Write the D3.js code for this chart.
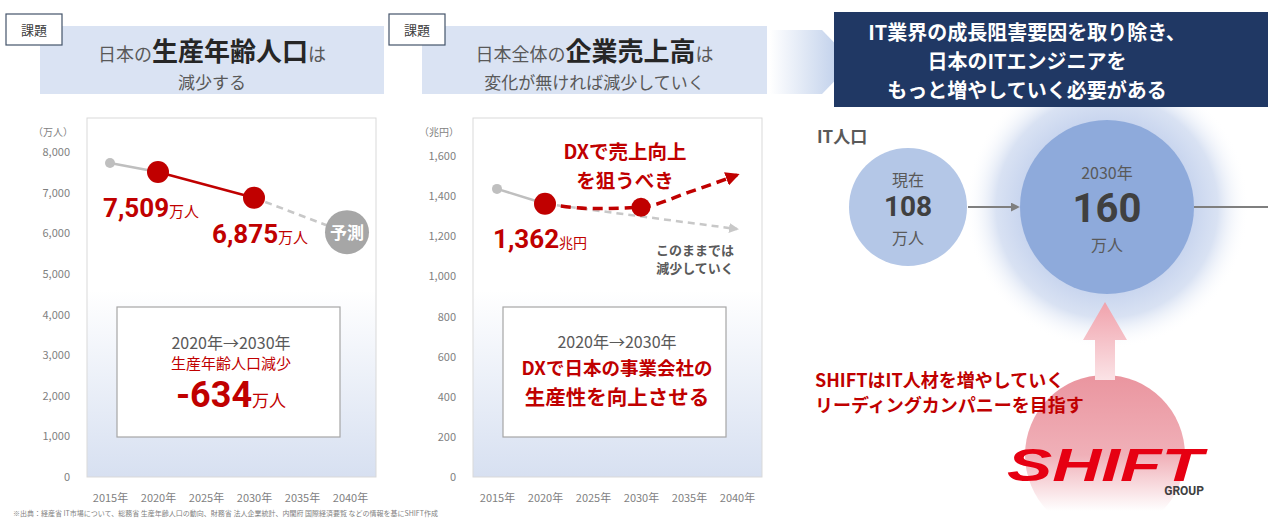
<!DOCTYPE html>
<html>
<head>
<meta charset="utf-8">
<script src="https://cdn.jsdelivr.net/npm/d3@7"></script>
<style>
  body { margin: 0; background: #fff; }
  svg { display: block; font-family: "Noto Sans CJK JP", "Noto Sans", sans-serif; }
</style>
</head>
<body>
<div id="chart"></div>
<script>
// data
const yearTicks = [2015, 2020, 2025, 2030, 2035, 2040]
const popYears = [2015, 2020, 2030, 2040]
const popValues = [7728, 7509, 6875, 5978]
const popTicks = [0, 1000, 2000, 3000, 4000, 5000, 6000, 7000, 8000]
const salesYears = [2015, 2020, 2030]
const salesValues = [1436, 1362, 1345]
const dxYears = [2020, 2025, 2030, 2035, 2040]
const dxValues = [1362, 1338, 1345, 1420, 1505]
const trendYears = [2020, 2040]
const trendValues = [1362, 1236]
const salesTicks = [0, 200, 400, 600, 800, 1000, 1200, 1400, 1600]
const itLabels = ['現在', '2030年']
const itValues = [108, 160]

const red = '#c00000'
const grayText = '#595959'
const numFont = 'Roboto, "Noto Sans", sans-serif'

const svg = d3.select('#chart').append('svg')
  .attr('width', 1268)
  .attr('height', 520)

const defs = svg.append('defs')

const bgGrad = defs.append('linearGradient')
  .attr('id', 'plotBg').attr('x1', 0).attr('y1', 0).attr('x2', 0).attr('y2', 1)
bgGrad.append('stop').attr('offset', '0%').attr('stop-color', '#ffffff')
bgGrad.append('stop').attr('offset', '48%').attr('stop-color', '#ffffff')
bgGrad.append('stop').attr('offset', '100%').attr('stop-color', '#d7e0f1')

const arrowGrad = defs.append('linearGradient')
  .attr('id', 'bigArrow').attr('x1', 0).attr('y1', 0).attr('x2', 1).attr('y2', 0)
arrowGrad.append('stop').attr('offset', '0%').attr('stop-color', '#ffffff')
arrowGrad.append('stop').attr('offset', '100%').attr('stop-color', '#b4c7e7')

const glow = defs.append('radialGradient').attr('id', 'glow')
glow.append('stop').attr('offset', '55%').attr('stop-color', '#c3d1ed')
glow.append('stop').attr('offset', '78%').attr('stop-color', '#d9e2f3')
glow.append('stop').attr('offset', '100%').attr('stop-color', '#ffffff').attr('stop-opacity', 0)

const pinkGrad = defs.append('linearGradient')
  .attr('id', 'pink').attr('x1', 0).attr('y1', 0).attr('x2', 0).attr('y2', 1)
pinkGrad.append('stop').attr('offset', '0%').attr('stop-color', '#ea959f')
pinkGrad.append('stop').attr('offset', '50%').attr('stop-color', '#f0b0b8')
pinkGrad.append('stop').attr('offset', '85%').attr('stop-color', '#ffffff')

const pinkArrowGrad = defs.append('linearGradient')
  .attr('id', 'pinkArrow').attr('x1', 0).attr('y1', 0).attr('x2', 0).attr('y2', 1)
pinkArrowGrad.append('stop').attr('offset', '0%').attr('stop-color', '#f0a2ac')
pinkArrowGrad.append('stop').attr('offset', '100%').attr('stop-color', '#fbe3e6')

const marker = (id, color, size) => {
  defs.append('marker')
    .attr('id', id)
    .attr('viewBox', '0 0 10 10')
    .attr('refX', 8).attr('refY', 5)
    .attr('markerWidth', size).attr('markerHeight', size)
    .attr('markerUnits', 'userSpaceOnUse')
    .attr('orient', 'auto')
    .append('path')
    .attr('d', 'M0,0 L10,5 L0,10 Z')
    .attr('fill', color)
}
marker('redHead', red, 14)
marker('grayHead', '#c8c8c8', 10)
marker('darkHead', '#7f7f7f', 9)

// ---------- title panels ----------
const titlePanel = (x, w, line1, line2) => {
  svg.append('rect')
    .attr('x', x).attr('y', 26).attr('width', w).attr('height', 68)
    .attr('fill', '#dae3f3')
  const t = svg.append('text')
    .attr('x', x + w / 2).attr('y', 61)
    .attr('text-anchor', 'middle')
    .attr('fill', '#404040')
  line1.forEach(p => {
    t.append('tspan')
      .attr('font-size', p.big ? 26 : 18)
      .attr('font-weight', p.big ? 'bold' : 'normal')
      .attr('fill', p.big ? '#262626' : '#595959')
      .text(p.s)
  })
  svg.append('text')
    .attr('x', x + w / 2).attr('y', 89)
    .attr('text-anchor', 'middle')
    .attr('font-size', 17).attr('fill', '#595959')
    .text(line2)
}
const tagBox = (x) => {
  svg.append('rect')
    .attr('x', x).attr('y', 14).attr('width', 56).attr('height', 31)
    .attr('fill', '#fff').attr('stroke', '#44546a').attr('stroke-width', 1.2)
  svg.append('text')
    .attr('x', x + 28).attr('y', 35)
    .attr('text-anchor', 'middle').attr('font-size', 13).attr('fill', '#404040')
    .text('課題')
}

titlePanel(40, 344, [{ s: '日本の' }, { s: '生産年齢人口', big: true }, { s: 'は' }], '減少する')
tagBox(6)
titlePanel(422, 345, [{ s: '日本全体の' }, { s: '企業売上高', big: true }, { s: 'は' }], '変化が無ければ減少していく')
tagBox(389)

// ---------- chart helper ----------
const plotTop = 118
const plotBottom = 477

const drawFrame = (left, right, y, ticks, unit, x) => {
  svg.append('rect')
    .attr('x', left).attr('y', plotTop)
    .attr('width', right - left).attr('height', plotBottom - plotTop)
    .attr('fill', 'url(#plotBg)').attr('stroke', '#d9d9d9')

  const yAxis = svg.append('g')
    .attr('transform', `translate(${left - 14},0)`)
    .call(d3.axisLeft(y).tickValues(ticks).tickSize(0).tickFormat(d3.format(',')))
  yAxis.select('.domain').remove()
  yAxis.selectAll('text')
    .attr('font-size', 11).attr('fill', '#7f7f7f')
    .attr('font-family', '"Noto Sans CJK JP", sans-serif')

  svg.append('text')
    .attr('x', left - 14).attr('y', 136)
    .attr('text-anchor', 'end').attr('font-size', 10).attr('fill', '#7f7f7f')
    .text(unit)

  const xAxis = svg.append('g')
    .attr('transform', `translate(0,${plotBottom + 14})`)
    .call(d3.axisBottom(x).tickValues(yearTicks).tickSize(0).tickFormat(d => d + '年'))
  xAxis.select('.domain').remove()
  xAxis.selectAll('text')
    .attr('font-size', 11).attr('fill', '#7f7f7f')
    .attr('font-family', '"Noto Sans CJK JP", sans-serif')
}

const noteBox = (x, y, w, h) => {
  svg.append('rect')
    .attr('x', x).attr('y', y).attr('width', w).attr('height', h)
    .attr('fill', '#fff').attr('stroke', '#a6a6a6').attr('stroke-width', 1.2)
}

// ---------- left chart: working-age population ----------
const x1 = d3.scaleLinear().domain([2015, 2040]).range([110, 350])
const y1 = d3.scaleLinear().domain([0, 8000]).range([plotBottom, 152])
drawFrame(87, 376, y1, popTicks, '（万人）', x1)

const pop = popYears.map((yr, i) => ({ yr, v: popValues[i] }))
const line1 = d3.line().x(d => x1(d.yr)).y(d => y1(d.v))

svg.append('path').attr('d', line1(pop.slice(0, 2)))
  .attr('fill', 'none').attr('stroke', '#bfbfbf').attr('stroke-width', 2.5)
svg.append('path').attr('d', line1(pop.slice(2, 4)))
  .attr('fill', 'none').attr('stroke', '#c8c8c8').attr('stroke-width', 2.5)
  .attr('stroke-dasharray', '7,5')
svg.append('path').attr('d', line1(pop.slice(1, 3)))
  .attr('fill', 'none').attr('stroke', red).attr('stroke-width', 2.5)

svg.append('circle').attr('cx', x1(2015)).attr('cy', y1(popValues[0])).attr('r', 5).attr('fill', '#bfbfbf')
svg.selectAll('circle.popRed')
  .data(pop.slice(1, 3))
  .enter().append('circle')
  .attr('class', 'popRed')
  .attr('cx', d => x1(d.yr)).attr('cy', d => y1(d.v))
  .attr('r', 11).attr('fill', red)

svg.append('circle').attr('cx', x1(2040) - 3).attr('cy', y1(popValues[3]) - 2).attr('r', 22).attr('fill', '#a6a6a6')
svg.append('text').attr('x', x1(2040) - 3).attr('y', y1(popValues[3]) + 5)
  .attr('text-anchor', 'middle').attr('font-size', 17).attr('font-weight', 'bold').attr('fill', '#fff')
  .text('予測')

const valueLabel = (x, y, num, unit, size, unitSize) => {
  const t = svg.append('text').attr('x', x).attr('y', y).attr('fill', red).attr('font-weight', 'bold')
  t.append('tspan').attr('font-size', size).attr('font-family', numFont).text(num)
  t.append('tspan').attr('font-size', unitSize).attr('font-weight', 'normal').text(unit)
}
valueLabel(103, 217, d3.format(',')(popValues[1]), '万人', 26, 15)
valueLabel(212, 243, d3.format(',')(popValues[2]), '万人', 26, 15)

noteBox(117, 307, 223, 130)
svg.append('text').attr('x', 231).attr('y', 349).attr('text-anchor', 'middle')
  .attr('font-size', 16).attr('fill', grayText).text('2020年→2030年')
svg.append('text').attr('x', 231).attr('y', 369).attr('text-anchor', 'middle')
  .attr('font-size', 15).attr('fill', red).text('生産年齢人口減少')
const drop = svg.append('text').attr('x', 231).attr('y', 407).attr('text-anchor', 'middle')
  .attr('fill', red).attr('font-weight', 'bold')
drop.append('tspan').attr('font-size', 36).attr('font-family', numFont)
  .text('-' + Math.abs(popValues[2] - popValues[1]))
drop.append('tspan').attr('font-size', 17).attr('font-weight', 'normal').text('万人')

// ---------- middle chart: corporate sales ----------
const x2 = d3.scaleLinear().domain([2015, 2040]).range([497, 737])
const y2 = d3.scaleLinear().domain([0, 1600]).range([plotBottom, 156])
drawFrame(473, 762, y2, salesTicks, '（兆円）', x2)

const line2 = d3.line().x(d => d[0]).y(d => d[1])
const pts = (ys, vs) => ys.map((yr, i) => [x2(yr), y2(vs[i])])

svg.append('path').attr('d', line2(pts(trendYears, trendValues)))
  .attr('fill', 'none').attr('stroke', '#c8c8c8').attr('stroke-width', 2.5)
  .attr('stroke-dasharray', '7,5').attr('marker-end', 'url(#grayHead)')
svg.append('path').attr('d', line2(pts(salesYears.slice(0, 2), salesValues.slice(0, 2))))
  .attr('fill', 'none').attr('stroke', '#bfbfbf').attr('stroke-width', 2.5)
svg.append('path')
  .attr('d', d3.line().curve(d3.curveMonotoneX)(pts(dxYears, dxValues)))
  .attr('fill', 'none').attr('stroke', red).attr('stroke-width', 3.5)
  .attr('stroke-dasharray', '10,6').attr('marker-end', 'url(#redHead)')

svg.append('circle').attr('cx', x2(2015)).attr('cy', y2(salesValues[0])).attr('r', 5).attr('fill', '#bfbfbf')
svg.selectAll('circle.salesRed')
  .data(pts(salesYears.slice(1), salesValues.slice(1)))
  .enter().append('circle')
  .attr('class', 'salesRed')
  .attr('cx', d => d[0]).attr('cy', d => d[1])
  .attr('r', (d, i) => i === 0 ? 11 : 9.5).attr('fill', red)

valueLabel(493, 248, d3.format(',')(salesValues[1]), '兆円', 26, 14)

svg.append('text').attr('x', 625).attr('y', 159).attr('text-anchor', 'middle')
  .attr('font-size', 19.5).attr('font-weight', 'bold').attr('fill', red).text('DXで売上向上')
svg.append('text').attr('x', 625).attr('y', 188).attr('text-anchor', 'middle')
  .attr('font-size', 19.5).attr('font-weight', 'bold').attr('fill', red).text('を狙うべき')
svg.append('text').attr('x', 695).attr('y', 255).attr('text-anchor', 'middle')
  .attr('font-size', 13).attr('font-weight', 'bold').attr('fill', grayText).text('このままでは')
svg.append('text').attr('x', 695).attr('y', 273).attr('text-anchor', 'middle')
  .attr('font-size', 13).attr('font-weight', 'bold').attr('fill', grayText).text('減少していく')

noteBox(503, 307, 223, 130)
svg.append('text').attr('x', 617).attr('y', 348).attr('text-anchor', 'middle')
  .attr('font-size', 16).attr('fill', grayText).text('2020年→2030年')
svg.append('text').attr('x', 617).attr('y', 375).attr('text-anchor', 'middle')
  .attr('font-size', 18.5).attr('font-weight', 'bold').attr('fill', red).text('DXで日本の事業会社の')
svg.append('text').attr('x', 617).attr('y', 405).attr('text-anchor', 'middle')
  .attr('font-size', 20.5).attr('font-weight', 'bold').attr('fill', red).text('生産性を向上させる')

// ---------- right section ----------
svg.append('path')
  .attr('d', 'M770,30 L822,30 L853,62 L822,94 L770,94 Z')
  .attr('fill', 'url(#bigArrow)')

svg.append('circle').attr('cx', 1107).attr('cy', 207).attr('r', 142).attr('fill', 'url(#glow)')

svg.append('rect').attr('x', 834).attr('y', 12).attr('width', 440).attr('height', 95).attr('fill', '#203864')
;['IT業界の成長阻害要因を取り除き、', '日本のITエンジニアを', 'もっと増やしていく必要がある'].forEach((s, i) => {
  svg.append('text').attr('x', 1027).attr('y', 40 + i * 29).attr('text-anchor', 'middle')
    .attr('font-size', 20).attr('font-weight', 'bold').attr('fill', '#fff').text(s)
})

svg.append('text').attr('x', 817).attr('y', 143).attr('font-size', 17)
  .attr('font-weight', 'bold').attr('fill', grayText).text('IT人口')

const r = d3.scaleSqrt().domain([0, 160]).range([0, 87])
const itNodes = [
  { cx: 908, label: itLabels[0], v: itValues[0], fill: '#b4c7e7', num: 28, ly: 186, ny: 216, uy: 244 },
  { cx: 1107, label: itLabels[1], v: itValues[1], fill: '#8eaadb', num: 40, ly: 179, ny: 222, uy: 251 }
]
svg.append('line').attr('x1', 968).attr('y1', 207).attr('x2', 1018).attr('y2', 207)
  .attr('stroke', '#7f7f7f').attr('stroke-width', 2).attr('marker-end', 'url(#darkHead)')
svg.append('line').attr('x1', 1194).attr('y1', 207).attr('x2', 1268).attr('y2', 207)
  .attr('stroke', '#7f7f7f').attr('stroke-width', 2)

itNodes.forEach((d, i) => {
  const rr = i === 0 ? 59 : r(d.v)
  svg.append('circle').attr('cx', d.cx).attr('cy', 207).attr('r', rr).attr('fill', d.fill)
  svg.append('text').attr('x', d.cx).attr('y', d.ly).attr('text-anchor', 'middle')
    .attr('font-size', 16).attr('fill', grayText).text(d.label)
  svg.append('text').attr('x', d.cx).attr('y', d.ny).attr('text-anchor', 'middle')
    .attr('font-size', d.num).attr('font-weight', 'bold').attr('font-family', numFont)
    .attr('fill', '#404040').text(d.v)
  svg.append('text').attr('x', d.cx).attr('y', d.uy).attr('text-anchor', 'middle')
    .attr('font-size', 16).attr('fill', grayText).text('万人')
})

// pink bubble + arrow
svg.append('circle').attr('cx', 1105).attr('cy', 455).attr('r', 80).attr('fill', 'url(#pink)')
svg.append('path')
  .attr('d', 'M1095,380 L1095,340 L1083,340 L1105,302 L1127,340 L1115,340 L1115,380 Z')
  .attr('fill', 'url(#pinkArrow)')

svg.append('text').attr('x', 815).attr('y', 387).attr('font-size', 18)
  .attr('font-weight', 'bold').attr('fill', red).text('SHIFTはIT人材を増やしていく')
svg.append('text').attr('x', 815).attr('y', 412).attr('font-size', 18)
  .attr('font-weight', 'bold').attr('fill', red).text('リーディングカンパニーを目指す')

svg.append('text').attr('x', 1007).attr('y', 481)
  .attr('font-size', 46).attr('font-weight', 900).attr('font-style', 'italic')
  .attr('font-family', '"Liberation Sans", Arial, sans-serif')
  .attr('textLength', 196).attr('lengthAdjust', 'spacingAndGlyphs')
  .attr('fill', '#e60012').text('SHIFT')
svg.append('text').attr('x', 1204).attr('y', 495).attr('text-anchor', 'end')
  .attr('font-size', 12).attr('font-weight', 'bold').attr('font-family', numFont)
  .attr('fill', '#404040').text('GROUP')

// footnote
svg.append('text').attr('x', 13).attr('y', 516).attr('font-size', 7).attr('fill', '#7f7f7f')
  .text('※出典：経産省 IT市場について、総務省 生産年齢人口の動向、財務省 法人企業統計、内閣府 国際経済要覧 などの情報を基にSHIFT作成')
</script>
</body>
</html>
